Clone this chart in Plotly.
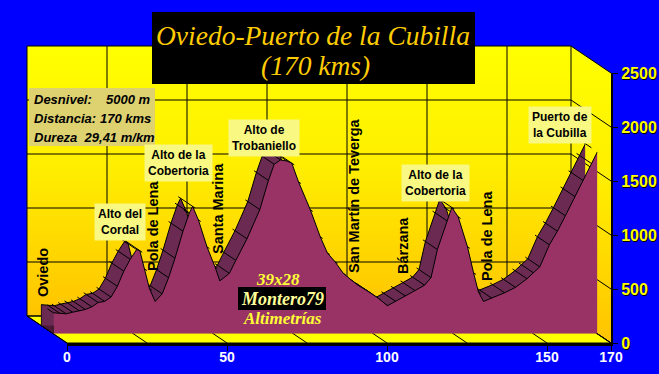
import plotly.graph_objects as go
import math

W, H = 659, 374

# ---------------- data ----------------
km = [0, 2, 4, 6, 8, 10, 12, 14, 16, 18, 20, 22, 24, 26, 27, 28.5, 30, 31.8,
      34, 36, 38, 40.5, 42.5, 43.5, 45.3, 48, 50.5, 52, 55, 57, 60.5, 64.5,
      67.2, 69, 71, 73, 74.5, 76.6, 80.3, 83.4, 85.6, 88, 90.6, 93, 95, 99,
      101.5, 104.4, 107, 110, 113, 116, 118, 120, 123, 124.5, 126.5, 129.4,
      131.3, 132.8, 134.4, 137, 141, 144.4, 148, 150, 152, 155, 157.5, 160,
      163, 165.5, 168, 170]
elev = [195, 190, 185, 200, 215, 225, 250, 290, 300, 340, 440, 580, 690, 780,
        770, 600, 420, 300, 370, 520, 700, 950, 1120, 1180, 1055, 805, 620,
        490, 560, 680, 880, 1150, 1420, 1570, 1610, 1600, 1580, 1407, 1148,
        898, 750, 667, 560, 500, 454, 380, 330, 260, 300, 350, 400, 450, 520,
        780, 1046, 1170, 1083, 806, 565, 389, 300, 330, 380, 430, 510, 565,
        620, 824, 950, 1093, 1270, 1420, 1580, 1685]

x_ticks = [0, 50, 100, 150, 170]
y_ticks = [0, 500, 1000, 1500, 2000, 2500]
wall_x_grid = [0, 25, 50, 75, 100, 125, 150, 170]
KM_MAX, EL_MAX = 170, 2500

title_lines = ["Oviedo-Puerto de la Cubilla", "(170 kms)"]
info_labels = ["Desnivel:", "Distancia:"]
info_values = ["5000 m", "170 kms"]
info_last = "Dureza  29,41 m/km"
peak_labels = ["Alto del<br>Cordal", "Alto de la<br>Cobertoria", "Alto de<br>Trobaniello",
               "Alto de la<br>Cobertoria", "Puerto de<br>la Cubilla"]
town_labels = ["Oviedo", "Pola de Lena", "Santa Marina", "San Martín de Teverga",
               "Bárzana", "Pola de Lena"]

# ---------------- 3-D box geometry (pixels) ----------------
FX0, FX1 = 67, 611
FYB, FYT = 343, 73
DX, DY = 40, 27
D_FRONT, D_BACK = 0.34, 0.64
D_MID = (D_FRONT + D_BACK) / 2


def box(d):
    return FX0 - DX * d, FX1 - DX * d, FYB - DY * d, FYT - DY * d


def dom(d):
    x0, x1, yb, yt = box(d)
    return [x0 / W, x1 / W], [(H - yb) / H, (H - yt) / H]


def px(x, y):
    return x / W, 1 - y / H


fig = go.Figure()

# ---- pixel frame: walls, floor, wall grid ----
bx0, bx1, byb, byt = box(1)
fx0, fx1, fyb, fyt = box(0)
wall_scale = [[0, "#FFC400"], [0.55, "#FFEE00"], [1, "#FFFF00"]]
fig.add_trace(go.Scatter(x=[bx0, bx1, bx1, bx0, bx0], y=[byt, byt, byb, byb, byt],
                         fill="toself", mode="lines", line=dict(width=0),
                         fillgradient=dict(type="vertical", colorscale=wall_scale),
                         hoverinfo="skip", xaxis="x", yaxis="y"))
fig.add_trace(go.Scatter(x=[bx1, fx1, fx1, bx1, bx1], y=[byt, fyt, fyb, byb, byt],
                         fill="toself", mode="lines", line=dict(width=0),
                         fillgradient=dict(type="vertical", colorscale=wall_scale),
                         hoverinfo="skip", xaxis="x", yaxis="y"))
fig.add_trace(go.Scatter(x=[bx0, bx1, fx1, fx0, bx0], y=[byb, byb, fyb, fyb, byb],
                         fill="toself", mode="lines", fillcolor="#FFFF00",
                         line=dict(width=1, color="black"),
                         hoverinfo="skip", xaxis="x", yaxis="y"))
gx, gy = [], []
for v in y_ticks:
    yb_ = byb - (byb - byt) * v / EL_MAX
    yf_ = fyb - (fyb - fyt) * v / EL_MAX
    gx += [bx0, bx1, fx1, None]
    gy += [yb_, yb_, yf_, None]
for k in wall_x_grid:
    xb_ = bx0 + (bx1 - bx0) * k / KM_MAX
    xf_ = fx0 + (fx1 - fx0) * k / KM_MAX
    gx += [xb_, xb_, xf_, None]
    gy += [byt, byb, fyb, None]
fig.add_trace(go.Scatter(x=gx, y=gy, mode="lines", line=dict(width=1, color="black"),
                         hoverinfo="skip", xaxis="x", yaxis="y"))
# left end face of the profile
ax0, _, ayb, ayt = box(D_BACK)
cx0, _, cyb, cyt = box(D_FRONT)
h_b = (ayb - ayt) * elev[0] / EL_MAX
h_f = (cyb - cyt) * elev[0] / EL_MAX
fig.add_trace(go.Scatter(x=[ax0, cx0, cx0, ax0, ax0], y=[ayb, cyb, cyb - h_f, ayb - h_b, ayb],
                         fill="toself", mode="lines", fillcolor="#4a1a38",
                         line=dict(width=1, color="black"), hoverinfo="skip",
                         xaxis="x", yaxis="y"))

# ---- back face of the profile (depth ribbon) ----
fig.add_trace(go.Scatter(x=km, y=elev, mode="lines", fill="tozeroy",
                         fillcolor="#6a2a52", line=dict(width=1, color="black"),
                         hoverinfo="skip", xaxis="x3", yaxis="y3"))
# ---- ribbon facet edges ----
seg = math.hypot(DX * (D_BACK - D_FRONT), DY * (D_BACK - D_FRONT))
ang = math.degrees(math.atan2(DY, DX))
fig.add_trace(go.Scatter(x=km, y=elev, mode="markers",
                         marker=dict(symbol="line-ew", size=seg, angle=ang,
                                     line=dict(width=1, color="black")),
                         hoverinfo="skip", xaxis="x4", yaxis="y4"))
# ---- front face of the profile ----
fig.add_trace(go.Scatter(x=km, y=elev, mode="lines", fill="tozeroy",
                         fillcolor="#993366", line=dict(width=1, color="black"),
                         hoverinfo="skip", xaxis="x5", yaxis="y5"))
# ---- front axes ----
fig.add_trace(go.Scatter(x=[0], y=[0], mode="markers", marker=dict(opacity=0),
                         hoverinfo="skip", xaxis="x6", yaxis="y6"))

layout = dict(
    width=W, height=H, paper_bgcolor="#0000FF", plot_bgcolor="rgba(0,0,0,0)",
    margin=dict(l=0, r=0, t=0, b=0, pad=0, autoexpand=False), showlegend=False,
    hovermode=False,
    xaxis=dict(domain=[0, 1], range=[0, W], visible=False, automargin=False),
    yaxis=dict(domain=[0, 1], range=[H, 0], visible=False, automargin=False),
)
for i, d in [(3, D_BACK), (4, D_MID), (5, D_FRONT)]:
    xd, yd = dom(d)
    layout[f"xaxis{i}"] = dict(domain=xd, range=[0, KM_MAX], anchor=f"y{i}", visible=False,
                               automargin=False)
    layout[f"yaxis{i}"] = dict(domain=yd, range=[0, EL_MAX], anchor=f"x{i}", visible=False,
                               automargin=False)
fd = dom(0)
layout["xaxis6"] = dict(domain=fd[0], range=[0, KM_MAX], anchor="y6", showgrid=False,
                        zeroline=False, tickvals=x_ticks, ticks="outside", ticklen=5,
                        tickcolor="black", showline=True, linecolor="black", linewidth=3,
                        automargin=False, ticklabelstandoff=-6,
                        tickfont=dict(family="Liberation Sans", size=14, color="white",
                                      weight="bold"))
layout["yaxis6"] = dict(domain=fd[1], range=[0, EL_MAX], anchor="x6", side="right",
                        showgrid=False, zeroline=False, tickvals=y_ticks, ticks="outside",
                        ticklen=5, tickcolor="black", showline=True, linecolor="black",
                        linewidth=2, automargin=False,
                        tickfont=dict(family="Liberation Sans", size=16, color="#FFFF00",
                                      weight="bold", shadow="1px 1px 0px black"))
fig.update_layout(**layout)

# ---------------- boxes ----------------
def rect(x0, y0, x1, y1, color):
    a, b = px(x0, y0)
    c, d = px(x1, y1)
    fig.add_shape(type="rect", xref="paper", yref="paper", x0=a, y0=b, x1=c, y1=d,
                  fillcolor=color, line=dict(width=0), layer="above")

rect(152, 12, 475, 84, "black")
rect(29, 88, 155, 146, "#DDD170")
rect(238, 287, 326, 310, "black")


def text(t, x, y, size, color, family="Liberation Sans", weight="bold", style="normal",
         xanchor="center", angle=0, bg=None, align="center", pad=2):
    a, b = px(x, y)
    fig.add_annotation(text=t, x=a, y=b, xref="paper", yref="paper", showarrow=False,
                       xanchor=xanchor, yanchor="middle", textangle=angle, align=align,
                       bgcolor=bg, borderpad=pad,
                       font=dict(family=family, size=size, color=color, weight=weight,
                                 style=style))

# title
text(title_lines[0], 313, 35, 27.5, "#FFCC00", family="Liberation Serif", weight="normal",
     style="italic")
text(title_lines[1], 315, 65, 27.5, "#FFCC00", family="Liberation Serif", weight="normal",
     style="italic")
# info box
for i, (lab, val) in enumerate(zip(info_labels, info_values)):
    yy = 100 + 18.5 * i
    text(lab, 31, yy, 13, "black", style="italic", xanchor="left")
    text(val, 154, yy, 13, "black", style="italic", xanchor="right")
text(info_last, 31, 137, 13, "black", style="italic", xanchor="left")

# peak labels
peak_pos = [(120, 222), (179, 163), (264, 138), (435, 183), (560, 125)]
for t, (x, y) in zip(peak_labels, peak_pos):
    text(t, x, y, 12, "black", bg="#F8F882", pad=3)

# town labels
town_pos = [(43, 273), (153, 226), (218, 209), (354, 196), (403, 246), (487, 236)]
for t, (x, y) in zip(town_labels, town_pos):
    text(t, x, y, 14.5, "black", angle=-90)

# watermark
text("39x28", 278, 279, 17, "#FFFF33", family="Liberation Serif", style="italic")
text("Montero79", 282, 299, 18, "#FFFF99", family="Liberation Serif", style="italic")
text("Altimetrías", 282, 318, 17, "#FFFF33", family="Liberation Serif", style="italic")

fig.write_html("out.html", config={"displayModeBar": False, "staticPlot": True},
               post_script="document.body.style.margin='0';"
                           "document.body.style.background='#0000FF';")
